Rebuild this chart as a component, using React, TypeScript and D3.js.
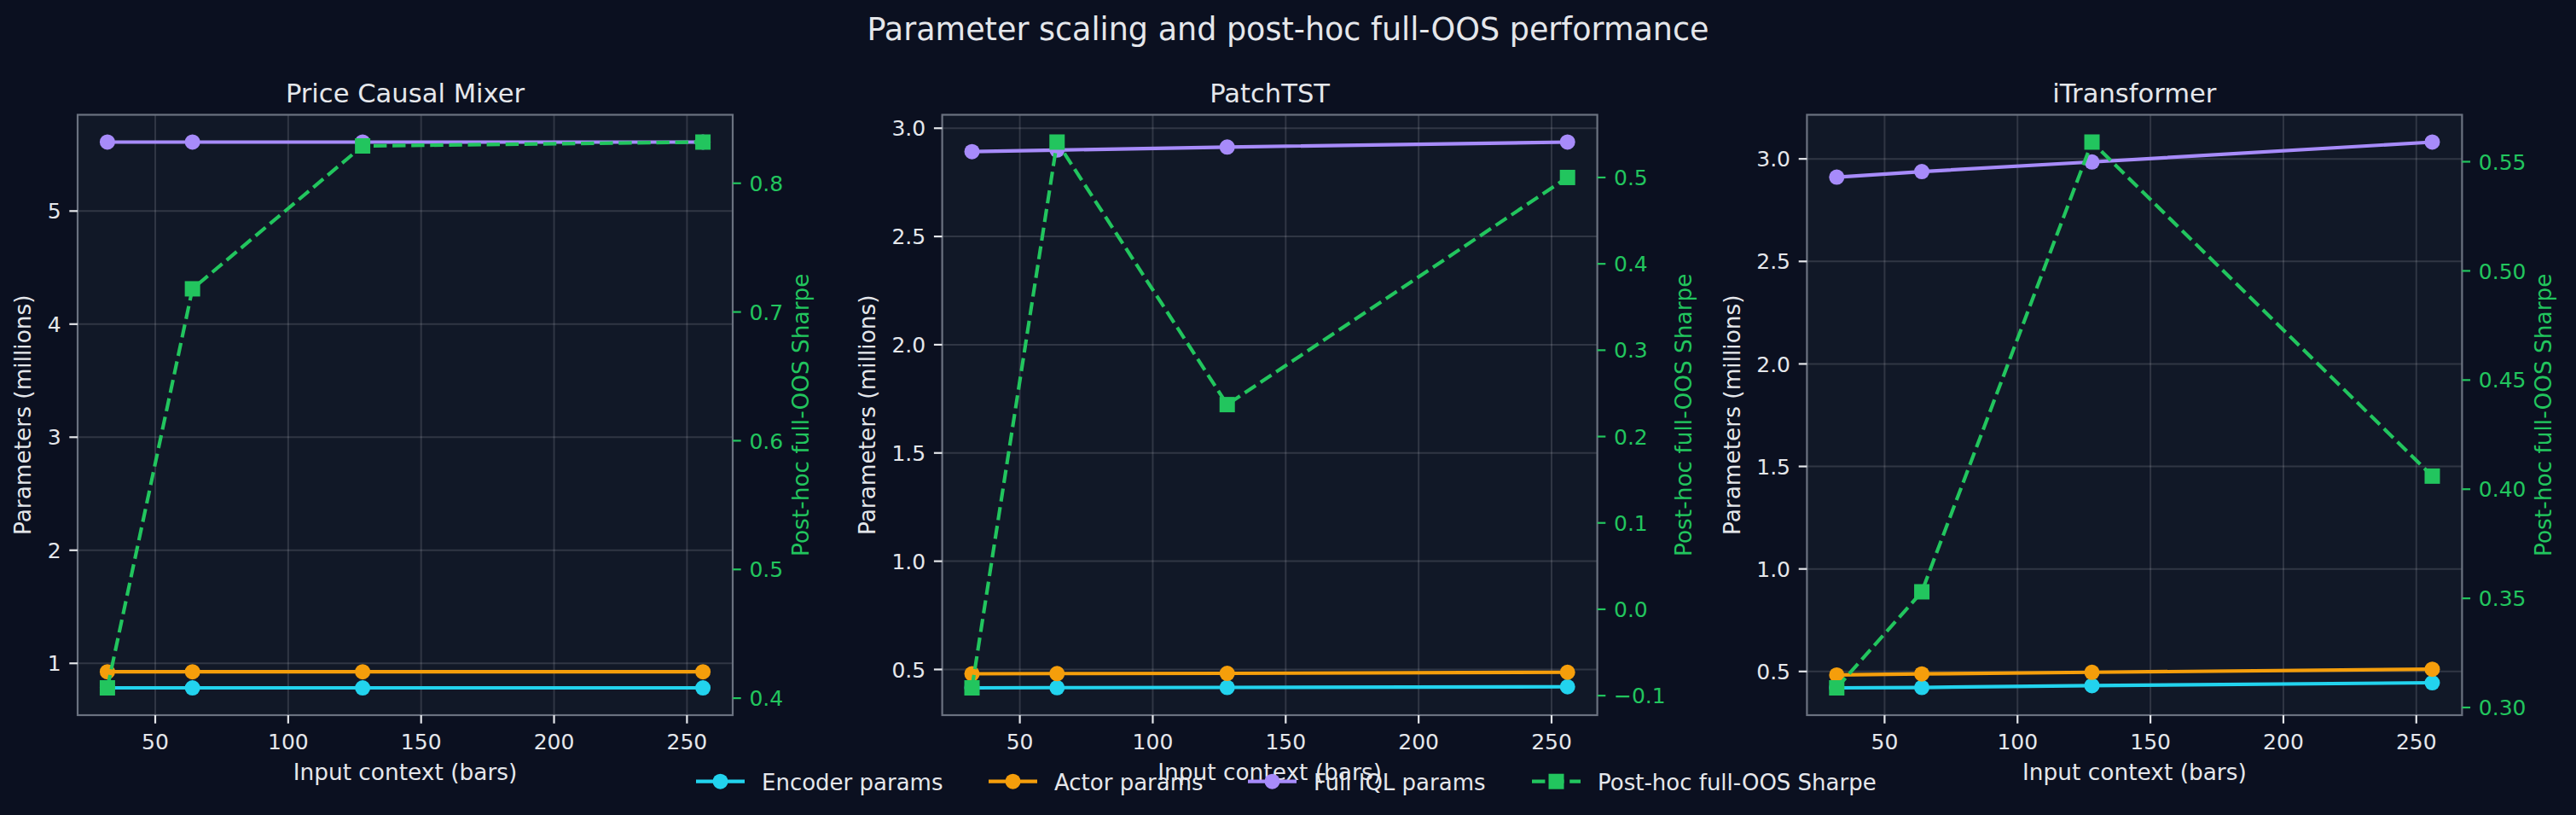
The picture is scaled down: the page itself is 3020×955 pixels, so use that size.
import React, { useEffect } from 'react';
import * as d3 from 'd3';

// input context lengths (bars) shared by every model
const contexts = [32, 64, 128, 256];
const modelNames = ['Price Causal Mixer', 'PatchTST', 'iTransformer'];

// parameter counts in millions, one row per model
const encoderParams = [
  [0.783, 0.783, 0.783, 0.783],
  [0.415, 0.416, 0.417, 0.42],
  [0.42, 0.422, 0.431, 0.445],
];
const actorParams = [
  [0.925, 0.925, 0.925, 0.925],
  [0.48, 0.481, 0.482, 0.487],
  [0.483, 0.488, 0.496, 0.511],
];
const fullIqlParams = [
  [5.61, 5.61, 5.61, 5.61],
  [2.892, 2.899, 2.913, 2.936],
  [2.911, 2.938, 2.985, 3.082],
];
// post-hoc full out-of-sample sharpe
const oosSharpe = [
  [0.408, 0.718, 0.829, 0.832],
  [-0.091, 0.541, 0.237, 0.5],
  [0.309, 0.353, 0.559, 0.406],
];

const seriesNames = ['Encoder params', 'Actor params', 'Full IQL params', 'Post-hoc full-OOS Sharpe'];

const W = 3020;
const H = 955;
const FONT = '"DejaVu Sans", sans-serif';
const FIG_BG = '#0b1020';
const AX_BG = '#111827';
const TEXT = '#e5e7eb';
const SPINE = '#6b7280';
const C_ENC = '#22d3ee';
const C_ACT = '#f59e0b';
const C_IQL = '#a78bfa';
const C_SHARPE = '#22c55e';

const PANEL_LEFT = [91, 1104.6, 2118.4];
const PLOT_W = 768;
const PLOT_TOP = 134.5;
const PLOT_BOTTOM = 838;
const TICK = 9.7;
const TICK_FS = 25;
const LABEL_FS = 26.4;
const LW = 4.17;
const DASH = '15.4 6.7';
const R = 9;
const SQ = 18;

// matplotlib style 5% margins
const padExtent = (ext: [number, number]): [number, number] => {
  const d = (ext[1] - ext[0]) * 0.05;
  return [ext[0] - d, ext[1] + d];
};

// rough DejaVu Sans widths for numeric tick labels
const labelWidth = (s: string, size: number) => {
  let w = 0;
  for (const ch of s) {
    if (ch === '.') w += 0.318;
    else if (ch === '\u2212') w += 0.838;
    else if (ch === '-') w += 0.361;
    else w += 0.636;
  }
  return w * size;
};

const Panel = ({ idx }: { idx: number }) => {
  const left = PANEL_LEFT[idx];
  const right = left + PLOT_W;

  const x = d3.scaleLinear().domain(padExtent(d3.extent(contexts) as [number, number])).range([left, right]);
  const allParams = [...encoderParams[idx], ...actorParams[idx], ...fullIqlParams[idx]];
  const y = d3.scaleLinear().domain(padExtent(d3.extent(allParams) as [number, number])).range([PLOT_BOTTOM, PLOT_TOP]);
  const y2 = d3
    .scaleLinear()
    .domain(padExtent(d3.extent(oosSharpe[idx]) as [number, number]))
    .range([PLOT_BOTTOM, PLOT_TOP]);

  const xTicks = x.ticks(6).filter((t) => x(t) >= left && x(t) <= right);
  const yTicks = y.ticks(6);
  const y2Ticks = y2.ticks(6);
  const yFmt = y.tickFormat(6);
  const y2Fmt = y2.tickFormat(6);

  const lineFor = (scale: d3.ScaleLinear<number, number>) =>
    d3
      .line<number>()
      .x((_, i) => x(contexts[i]))
      .y((d) => scale(d));

  const maxYW = d3.max(yTicks, (t) => labelWidth(yFmt(t), TICK_FS)) as number;
  const maxY2W = d3.max(y2Ticks, (t) => labelWidth(y2Fmt(t), TICK_FS)) as number;
  const leftLabelX = left - (TICK * 2 + maxYW + 27.5);
  const rightLabelX = right + TICK * 2 + maxY2W + 22.5;
  const midY = (PLOT_TOP + PLOT_BOTTOM) / 2;

  const paramSeries = [
    { vals: encoderParams[idx], color: C_ENC },
    { vals: actorParams[idx], color: C_ACT },
    { vals: fullIqlParams[idx], color: C_IQL },
  ];

  return (
    <g>
      <rect x={left} y={PLOT_TOP} width={PLOT_W} height={PLOT_BOTTOM - PLOT_TOP} fill={AX_BG} />
      {xTicks.map((t) => (
        <line key={'gx' + t} x1={x(t)} x2={x(t)} y1={PLOT_TOP} y2={PLOT_BOTTOM} stroke={TEXT} strokeOpacity={0.15} strokeWidth={2} />
      ))}
      {yTicks.map((t) => (
        <line key={'gy' + t} x1={left} x2={right} y1={y(t)} y2={y(t)} stroke={TEXT} strokeOpacity={0.15} strokeWidth={2} />
      ))}

      {paramSeries.map((s, si) => (
        <g key={'s' + si}>
          <path d={lineFor(y)(s.vals) as string} fill="none" stroke={s.color} strokeWidth={LW} />
          {s.vals.map((v, i) => (
            <circle key={i} cx={x(contexts[i])} cy={y(v)} r={R} fill={s.color} />
          ))}
        </g>
      ))}

      <rect x={left} y={PLOT_TOP} width={PLOT_W} height={PLOT_BOTTOM - PLOT_TOP} fill="none" stroke={SPINE} strokeWidth={2.2} />

      <path d={lineFor(y2)(oosSharpe[idx]) as string} fill="none" stroke={C_SHARPE} strokeWidth={LW} strokeDasharray={DASH} />
      {oosSharpe[idx].map((v, i) => (
        <rect key={'sq' + i} x={x(contexts[i]) - SQ / 2} y={y2(v) - SQ / 2} width={SQ} height={SQ} fill={C_SHARPE} />
      ))}

      {/* x axis */}
      {xTicks.map((t) => (
        <g key={'xt' + t}>
          <line x1={x(t)} x2={x(t)} y1={PLOT_BOTTOM} y2={PLOT_BOTTOM + TICK} stroke={TEXT} strokeWidth={2.2} />
          <text x={x(t)} y={877.5} textAnchor="middle" fontSize={TICK_FS} fill={TEXT} fontFamily={FONT}>
            {x.tickFormat(6)(t)}
          </text>
        </g>
      ))}
      <text x={(left + right) / 2} y={914} textAnchor="middle" fontSize={LABEL_FS} fill={TEXT} fontFamily={FONT}>
        Input context (bars)
      </text>

      {/* left axis */}
      {yTicks.map((t) => (
        <g key={'yt' + t}>
          <line x1={left - TICK} x2={left} y1={y(t)} y2={y(t)} stroke={TEXT} strokeWidth={2.2} />
          <text x={left - TICK * 2} y={y(t)} dy="0.364em" textAnchor="end" fontSize={TICK_FS} fill={TEXT} fontFamily={FONT}>
            {yFmt(t)}
          </text>
        </g>
      ))}
      <text
        transform={`translate(${leftLabelX},${midY}) rotate(-90)`}
        dy="0.31em"
        textAnchor="middle"
        fontSize={LABEL_FS}
        fill={TEXT}
        fontFamily={FONT}
      >
        Parameters (millions)
      </text>

      {/* right axis */}
      {y2Ticks.map((t) => (
        <g key={'y2t' + t}>
          <line x1={right} x2={right + TICK} y1={y2(t)} y2={y2(t)} stroke={C_SHARPE} strokeWidth={2.2} />
          <text x={right + TICK * 2} y={y2(t)} dy="0.364em" textAnchor="start" fontSize={TICK_FS} fill={C_SHARPE} fontFamily={FONT}>
            {y2Fmt(t)}
          </text>
        </g>
      ))}
      <text
        transform={`translate(${rightLabelX},${midY}) rotate(-90)`}
        dy="0.28em"
        textAnchor="middle"
        fontSize={LABEL_FS}
        fill={C_SHARPE}
        fontFamily={FONT}
      >
        Post-hoc full-OOS Sharpe
      </text>

      <text x={(left + right) / 2} y={120} textAnchor="middle" fontSize={30.6} fill={TEXT} fontFamily={FONT}>
        {modelNames[idx]}
      </text>
    </g>
  );
};

const LEGEND_X = [816, 1159, 1463, 1796];
const LEGEND_Y = 915.7;
const HANDLE = 57;

const Legend = () => {
  const colors = [C_ENC, C_ACT, C_IQL, C_SHARPE];
  return (
    <g>
      {seriesNames.map((name, i) => {
        const x0 = LEGEND_X[i];
        const cx = x0 + HANDLE / 2;
        const sharpe = i === 3;
        return (
          <g key={name}>
            <line
              x1={x0}
              x2={x0 + HANDLE}
              y1={LEGEND_Y}
              y2={LEGEND_Y}
              stroke={colors[i]}
              strokeWidth={LW}
              strokeDasharray={sharpe ? DASH : undefined}
            />
            {sharpe ? (
              <rect x={cx - SQ / 2} y={LEGEND_Y - SQ / 2} width={SQ} height={SQ} fill={colors[i]} />
            ) : (
              <circle cx={cx} cy={LEGEND_Y} r={R} fill={colors[i]} />
            )}
            <text x={x0 + HANDLE + 20} y={LEGEND_Y} dy="0.38em" fontSize={26} fill={TEXT} fontFamily={FONT}>
              {name}
            </text>
          </g>
        );
      })}
    </g>
  );
};

const App = () => {
  useEffect(() => {
    document.body.style.margin = '0';
    document.body.style.background = FIG_BG;
  }, []);

  return (
    <svg width={W} height={H} style={{ display: 'block', backgroundColor: FIG_BG }}>
      <text x={W / 2} y={47.3} textAnchor="middle" fontSize={36.5} fill={TEXT} fontFamily={FONT}>
        Parameter scaling and post-hoc full-OOS performance
      </text>
      {modelNames.map((_, i) => (
        <Panel key={i} idx={i} />
      ))}
      <Legend />
    </svg>
  );
};

export default App;
